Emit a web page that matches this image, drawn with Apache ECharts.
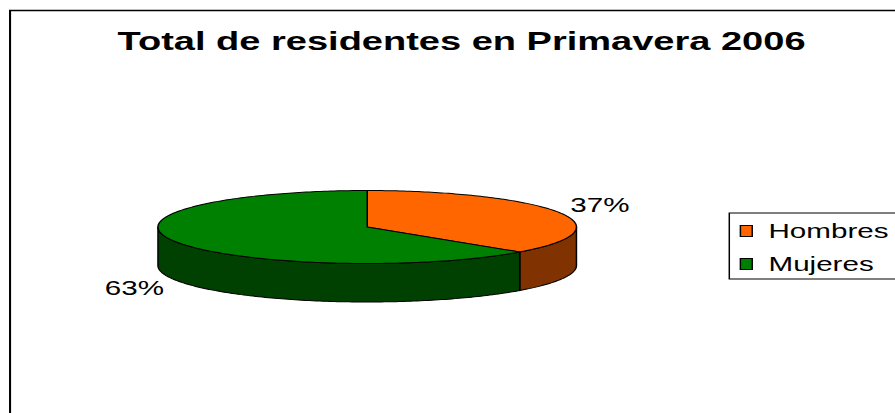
<!DOCTYPE html>
<html>
<head>
<meta charset="utf-8">
<script src="https://cdn.jsdelivr.net/npm/echarts@6/dist/echarts.min.js"></script>
<style>
html, body { margin: 0; padding: 0; background: #fff; overflow: hidden; }
/* the original chart is stretched sideways, so draw narrow and stretch */
#chart { width: 605px; height: 413px; transform: scaleX(1.4793); transform-origin: 0 0; }
</style>
</head>
<body>
<div id="chart"></div>
<script>
var categories = ['Hombres', 'Mujeres'];
var values = [37, 63];
var topColors = ['#FF6600', '#008000'];
var sideColors = ['#803300', '#004000'];

var FONT = '"Liberation Sans", Arial, sans-serif';
var total = values.reduce(function (s, v) { return s + v; }, 0);

var myChart = echarts.init(document.getElementById('chart'), null, { renderer: 'svg' });

// angles in degrees, clockwise from 12 o'clock
function sliceData(i) {
	var start = 0;
	for (var k = 0; k < i; k++) start += values[k] / total * 360;
	return [[start, start + values[i] / total * 360, values[i]]];
}

function renderSlice(i) {
	return function (params, api) {
		var w = api.getWidth();
		var cx = w * 0.4103, cy = 227, rx = w * 0.2338, ry = 36.5, depth = 38.5;
		var a0 = api.value(0), a1 = api.value(1);
		function pt(a, dy) {
			var r = a * Math.PI / 180;
			return [cx + rx * Math.sin(r), cy - ry * Math.cos(r) + dy];
		}
		function arc(s, e, dy) {
			var pts = [];
			var n = Math.max(2, Math.ceil(e - s));
			for (var j = 0; j <= n; j++) pts.push(pt(s + (e - s) * j / n, dy));
			return pts;
		}
		var children = [];
		// front side wall
		var s = Math.max(a0, 90), e = Math.min(a1, 270);
		if (s < e) {
			var side = arc(s, e, 0).concat(arc(s, e, depth).reverse());
			children.push({
				type: 'polygon',
				shape: { points: side },
				style: { fill: sideColors[i], stroke: '#000', lineWidth: 1 }
			});
		}
		// top face
		children.push({
			type: 'polygon',
			shape: { points: [[cx, cy]].concat(arc(a0, a1, 0)) },
			style: { fill: topColors[i], stroke: '#000', lineWidth: 1 }
		});
		// percent label
		var m = (a0 + a1) / 2;
		var mr = m * Math.PI / 180;
		var lower = Math.cos(mr) < 0;
		var p = pt(m, lower ? depth : 0);
		var right = Math.sin(mr) >= 0;
		children.push({
			type: 'text',
			style: {
				text: Math.round(api.value(2) / total * 100) + '%',
				x: p[0] + (right ? 7.5 : -7.5),
				y: p[1] - Math.cos(mr) * 20,
				fill: '#000',
				fontSize: 20,
				fontFamily: FONT,
				align: right ? 'left' : 'right',
				verticalAlign: 'middle'
			}
		});
		return { type: 'group', children: children };
	};
}

var series = categories.map(function (name, i) {
	return {
		name: name,
		type: 'custom',
		coordinateSystem: 'none',
		itemStyle: { color: topColors[i] },
		data: sliceData(i),
		renderItem: renderSlice(i)
	};
});

var option = {
	backgroundColor: '#fff',
	animation: false,
	title: {
		text: 'Total de residentes en Primavera 2006',
		left: 312,
		top: 28,
		padding: 0,
		textAlign: 'center',
		textStyle: {
			color: '#000',
			fontSize: 25.7,
			fontWeight: 'bold',
			fontFamily: FONT
		}
	},
	legend: {
		data: categories,
		orient: 'vertical',
		left: 493,
		top: 213,
		padding: [8, 10, 5, 7],
		itemGap: 13,
		icon: 'rect',
		itemWidth: 8,
		itemHeight: 11,
		itemStyle: { borderColor: '#000', borderWidth: 1 },
		borderColor: '#000',
		borderWidth: 1,
		selectedMode: false,
		textStyle: {
			color: '#000',
			fontSize: 20,
			fontFamily: FONT,
			padding: [0, 0, 0, 6]
		}
	},
	graphic: [{
		type: 'rect',
		shape: { x: 6.8, y: 10.5, width: 800, height: 600 },
		style: { fill: 'none', stroke: '#000', lineWidth: 1.4 },
		silent: true
	}],
	series: series
};

myChart.setOption(option);
</script>
</body>
</html>
